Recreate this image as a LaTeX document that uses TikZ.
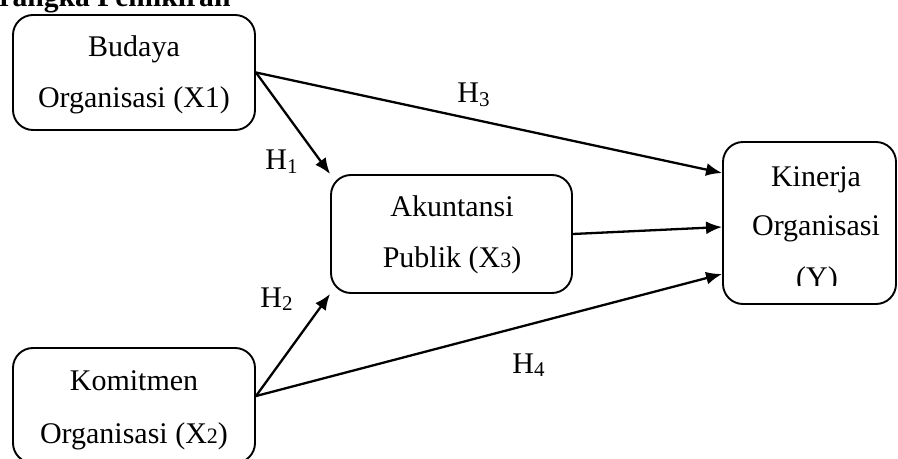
\documentclass[tikz,border=0pt]{standalone}
\usepackage{fontspec}
\setmainfont{Liberation Serif}
\usetikzlibrary{arrows.meta,calc}
\tikzset{
  box/.style={draw, line width=0.95pt, rounded corners=10pt, inner sep=0pt},
  txt/.style={anchor=base, inner sep=0pt, font=\fontsize{15}{17}\selectfont},
  hlab/.style={anchor=base west, inner sep=0pt, font=\fontsize{15}{17}\selectfont},
  conn/.style={line width=1.15pt, -{Latex[length=8pt,width=6.5pt]}}
}
\newcommand{\smalldig}[1]{{\fontsize{11}{12}\selectfont #1}}
\newcommand{\subdig}[1]{\raisebox{-1.6pt}{\fontsize{10.5}{11}\selectfont #1}}
\begin{document}
\begin{tikzpicture}[x=0.5pt,y=-0.5pt]
\useasboundingbox (0,0) rectangle (898,459);
% title
\node[hlab, font=\fontsize{14.8}{17}\selectfont\bfseries] (title) at (-1,7) {rangka Pemikiran};
% boxes
\node[box, minimum width=121pt, minimum height=57.5pt] (b1) at (134,72.5) {};
\node[box, minimum width=120.5pt, minimum height=59pt] (b2) at (451.5,234) {};
\node[box, minimum width=86.5pt, minimum height=81pt] (b3) at (809.5,223) {};
\node[box, minimum width=121pt, minimum height=57.5pt] (b4) at (134,405.5) {};
% box texts
\node[txt] (t1a) at (134,57) {Budaya};
\node[txt] (t1b) at (134,108) {Organisasi (X1)};
\node[txt] (t2a) at (452,217) {Akuntansi};
\node[txt] (t2b) at (452,268) {Publik (X\smalldig{3})};
\node[txt] (t3a) at (816,187) {Kinerja};
\node[txt] (t3b) at (816,236) {Organisasi};
\begin{scope}
\clip (724,250) rectangle (895,286);
\node[txt] (t3c) at (817,288) {(Y)};
\end{scope}
\node[txt] (t4a) at (134,390) {Komitmen};
\node[txt] (t4b) at (134,443) {Organisasi (X\smalldig{2})};
% connector points
\coordinate (k) at ($(b4.north east)+(0,49)$);
\coordinate (y1) at ($(b3.west)+(0,-50)$);
\coordinate (y2) at ($(b3.west)+(0,4)$);
\coordinate (y3) at ($(b3.west)+(0,51)$);
% connectors
\draw[conn] (b1.east) -- (b2.north west);
\draw[conn] (b1.east) -- (y1);
\draw[conn] (b2.east) -- (y2);
\draw[conn] (k) -- (b2.south west);
\draw[conn] (k) -- (y3);
% labels
\node[hlab] (h1) at (265,170) {H\subdig{1}};
\node[hlab] (h2) at (260,307) {H\subdig{2}};
\node[hlab] (h3) at (457,103) {H\subdig{3}};
\node[hlab] (h4) at (512,373) {H\subdig{4}};
\end{tikzpicture}
\end{document}
